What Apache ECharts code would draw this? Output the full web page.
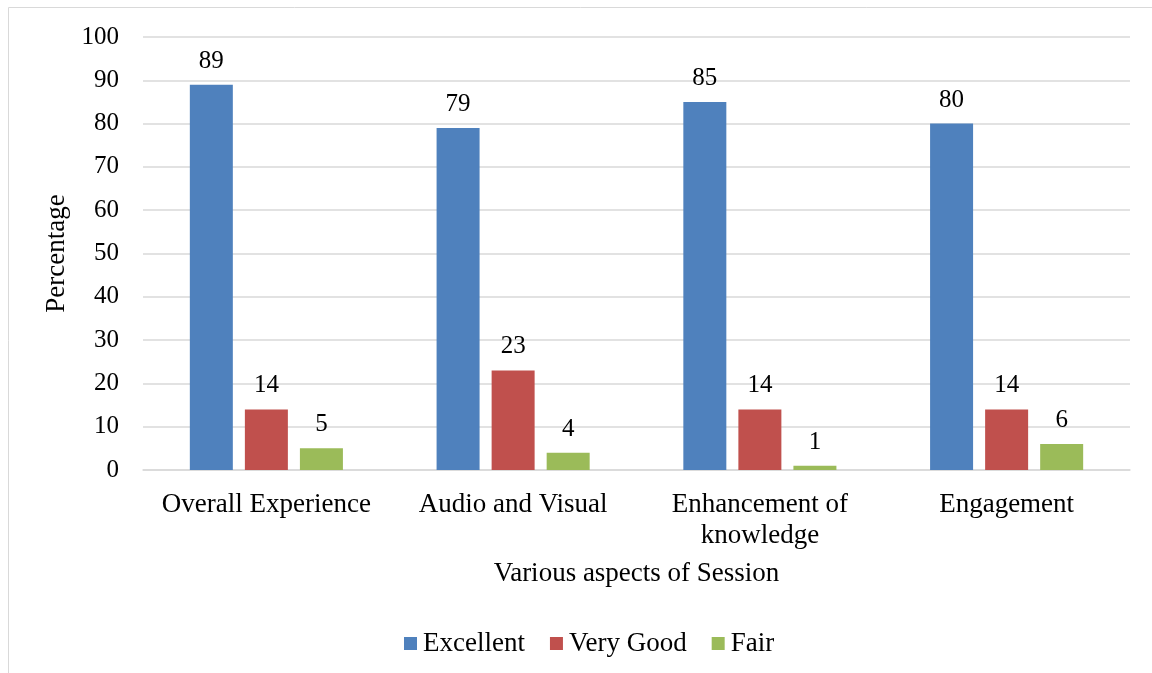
<!DOCTYPE html>
<html>
<head>
<meta charset="utf-8">
<script src="https://cdn.jsdelivr.net/npm/echarts@6/dist/echarts.min.js"></script>
<style>html,body{margin:0;padding:0;background:#fff;}#c{width:1152px;height:673px;}</style>
</head>
<body>
<div id="c"></div>
<script>
const categories = ['Overall Experience', 'Audio and Visual', 'Enhancement of\nknowledge', 'Engagement'];
const excellent = [89, 79, 85, 80];
const veryGood = [14, 23, 14, 14];
const fair = [5, 4, 1, 6];
const seriesNames = ['Excellent', 'Very Good', 'Fair'];
const colors = ['#4F81BD', '#C0504D', '#9BBB59'];

const FONT = "'Liberation Serif', 'Times New Roman', serif";
const chart = echarts.init(document.getElementById('c'));
const mk = (name, data, color) => ({
  name, type: 'bar', data,
  barWidth: 43, barGap: '28%', barCategoryGap: '38%',
  itemStyle: { color },
  label: { show: true, position: 'top', distance: 11, color: '#000', fontFamily: FONT, fontSize: 25 }
});
chart.setOption({
  animation: false,
  textStyle: { fontFamily: FONT },
  graphic: [{ type: 'rect', shape: { x: 8.5, y: 7.5, width: 1200, height: 720 }, style: { fill: 'none', stroke: '#d9d9d9', lineWidth: 1 }, silent: true }],
  grid: { left: 143, right: 22, top: 37, bottom: 203 },
  legend: {
    data: seriesNames, bottom: 16, left: 404, padding: 0, itemWidth: 13, itemHeight: 13, itemGap: 25,
    icon: 'rect', textStyle: { fontFamily: FONT, fontSize: 27, color: '#000', padding: [0, 0, 0, 1] }
  },
  xAxis: {
    type: 'category', data: categories,
    name: 'Various aspects of Session', nameLocation: 'middle', nameGap: 90,
    nameTextStyle: { fontFamily: FONT, fontSize: 27, color: '#000' },
    axisLine: { lineStyle: { color: '#d9d9d9', width: 1.5 } },
    axisTick: { show: false },
    axisLabel: { fontFamily: FONT, fontSize: 27, color: '#000', margin: 19, lineHeight: 31, interval: 0 }
  },
  yAxis: {
    type: 'value', min: 0, max: 100, interval: 10,
    name: 'Percentage', nameLocation: 'middle', nameGap: 70,
    nameTextStyle: { fontFamily: FONT, fontSize: 27, color: '#000' },
    axisLine: { show: false }, axisTick: { show: false },
    splitLine: { lineStyle: { color: '#d9d9d9', width: 1.5 } },
    axisLabel: { fontFamily: FONT, fontSize: 25, color: '#000', margin: 24 }
  },
  series: [mk(seriesNames[0], excellent, colors[0]), mk(seriesNames[1], veryGood, colors[1]), mk(seriesNames[2], fair, colors[2])]
});
</script>
</body>
</html>
